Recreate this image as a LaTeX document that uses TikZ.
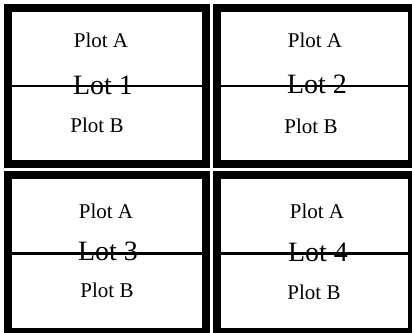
\documentclass[tikz,border=0pt]{standalone}
\usepackage{fontspec}
\setmainfont{Liberation Serif}
\usetikzlibrary{positioning}

\begin{document}
\begin{tikzpicture}[x=1pt, y=-1pt,
  cell/.style={draw, line width=8pt, inner sep=0pt},
  divider/.style={line width=2.2pt},
  plot/.style={anchor=base, inner sep=0pt, font=\fontsize{21}{25}\selectfont},
  lot/.style={anchor=base, inner sep=0pt, font=\fontsize{28}{33}\selectfont}]
\useasboundingbox (0,0) rectangle (412,332);
\clip (0,0) rectangle (412,332);
% the four lots
\node[cell, minimum width=198pt, minimum height=156pt] (c1) at (107,86) {};
\node[cell, minimum width=195pt, minimum height=156pt] (c2) at (314.5,86) {};
\node[cell, minimum width=198pt, minimum height=157pt] (c3) at (107,253.5) {};
\node[cell, minimum width=195pt, minimum height=157pt] (c4) at (314.5,253.5) {};
\draw[divider] (c1.west) -- (c1.east);
\draw[divider] (c2.west) -- (c2.east);
\draw[divider] (c3.west) -- (c3.east);
\draw[divider] (c4.west) -- (c4.east);
% labels
\node[lot] (l1) at (103,94) {Lot 1};
\node[plot] (a1) at (101,47) {Plot A};
\node[plot] (b1) at (97,132) {Plot B};
\node[lot] (l2) at (317,93) {Lot 2};
\node[plot] (a2) at (315,47) {Plot A};
\node[plot] (b2) at (311,133) {Plot B};
\node[lot] (l3) at (108,260) {Lot 3};
\node[plot] (a3) at (106,218) {Plot A};
\node[plot] (b3) at (107,297) {Plot B};
\node[lot] (l4) at (318,261) {Lot 4};
\node[plot] (a4) at (317,218) {Plot A};
\node[plot] (b4) at (314,299) {Plot B};
\end{tikzpicture}
\end{document}
